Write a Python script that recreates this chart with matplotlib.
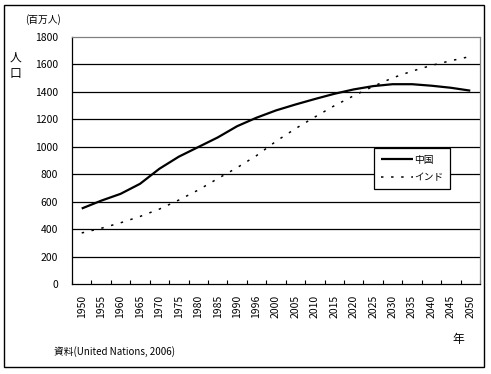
import matplotlib
matplotlib.use("Agg")
import matplotlib.pyplot as plt
from matplotlib.patches import Rectangle

plt.rcParams['font.family'] = ['Noto Sans CJK JP', 'DejaVu Sans']

years = ["1950", "1955", "1960", "1965", "1970", "1975", "1980", "1985", "1990", "1996",
         "2000", "2005", "2010", "2015", "2020", "2025", "2030", "2035", "2040", "2045", "2050"]
china = [550, 607, 657, 730, 840, 928, 998, 1068, 1150, 1212, 1265, 1308, 1348, 1386,
         1418, 1442, 1456, 1456, 1445, 1430, 1409]
india = [372, 406, 446, 492, 546, 612, 685, 768, 848, 936, 1040, 1132, 1217, 1299,
         1372, 1440, 1502, 1551, 1593, 1627, 1658]
yticks = list(range(0, 1801, 200))

fig = plt.figure(figsize=(4.91, 3.74), dpi=100)
# outer frame
fig.patches.append(Rectangle((4/491, 1-367/374), (484-4)/491, (367-5)/374,
                             transform=fig.transFigure, fill=False, edgecolor='black',
                             linewidth=1.0))

ax = fig.add_axes([72/491, 1-284/374, (480-72)/491, (284-37)/374])
x = list(range(len(years)))
ax.plot(x, china, color='black', linewidth=1.6, label='中国', solid_capstyle='butt')
ax.plot(x, india, color='black', linewidth=1.1, linestyle=(0, (1.6, 5.0)), label='インド')

ax.set_xlim(-0.5, len(years) - 0.5)
ax.set_ylim(0, 1800)
ax.set_yticks(yticks)
ax.set_yticklabels([str(v) for v in yticks], fontsize=7.5)
for v in yticks[1:-1]:
    ax.axhline(v, color='black', linewidth=0.9, zorder=0)

ax.set_xticks(x)
ax.set_xticklabels(years, rotation=90, fontsize=7.5)
ax.tick_params(axis='x', length=0, pad=8)
ax.set_xticks([i + 0.5 for i in range(-1, len(years))], minor=True)
ax.tick_params(axis='x', which='minor', direction='in', length=3, width=0.8)
ax.tick_params(axis='y', length=0, pad=10)

for s in ['top', 'right']:
    ax.spines[s].set_color('#808080')
    ax.spines[s].set_linewidth(0.9)
for s in ['left', 'bottom']:
    ax.spines[s].set_color('black')
    ax.spines[s].set_linewidth(0.9)

leg = ax.legend(loc='upper left', bbox_to_anchor=((374-72)/408, 1-(148-37)/247),
                fontsize=7, frameon=True, fancybox=False, handlelength=3.3,
                handletextpad=0.1, borderpad=0.7, labelspacing=0.75, borderaxespad=0)
leg.get_frame().set_edgecolor('black')
leg.get_frame().set_linewidth(0.9)
leg.get_frame().set_alpha(1)

fig.text(25/491, 1-20/374, '(百万人)', fontsize=7, ha='left', va='center')
fig.text(15/491, 1-57/374, '人', fontsize=8.5, ha='center', va='center')
fig.text(15/491, 1-73/374, '口', fontsize=8.5, ha='center', va='center')
fig.text(458/491, 1-339/374, '年', fontsize=8.5, ha='center', va='center')
fig.text(54/491, 1-352/374, '資料(United Nations, 2006)', fontsize=7, ha='left', va='center')

fig.savefig('out.png', dpi=100)
